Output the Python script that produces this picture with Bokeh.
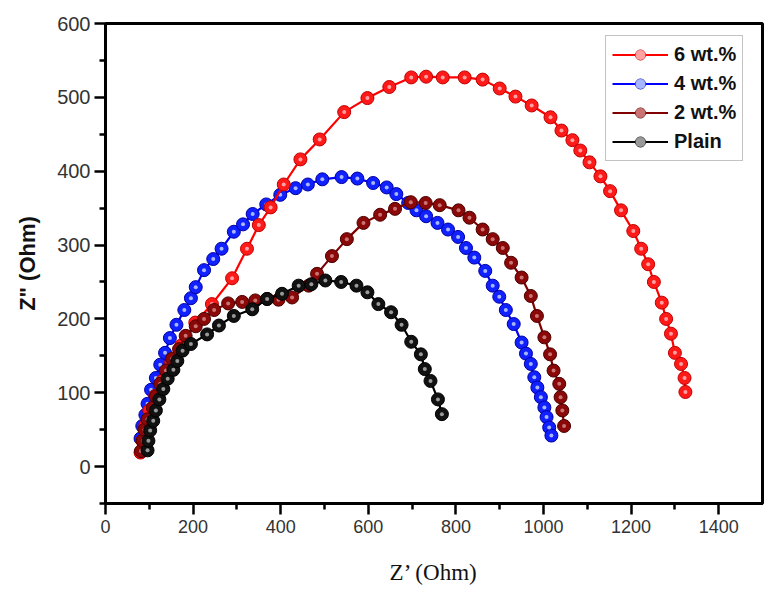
from bokeh.plotting import figure
from bokeh.models import FixedTicker, Range1d, Legend, LegendItem
from bokeh.embed import file_html
from bokeh.resources import INLINE

# ---- data (Z' , Z'' in Ohm) ----
red_x = [80, 84, 91, 100, 114, 130, 150, 173, 205, 243, 289, 323, 350, 377, 407, 445, 489, 545,
         598, 648, 698, 732, 770, 820, 861, 900, 936, 973, 1016, 1041, 1066, 1084, 1105, 1130,
         1152, 1177, 1205, 1223, 1239, 1252, 1270, 1280, 1291, 1300, 1314, 1322, 1324]
red_y = [19, 35, 55, 76, 96, 116, 141, 164, 195, 220, 255, 295, 327, 351, 382, 416, 443, 480,
         499, 514, 527, 528, 527, 527, 524, 512, 501, 489, 473, 455, 442, 428, 412, 393,
         373, 347, 319, 295, 274, 250, 222, 200, 180, 154, 139, 120, 101]

blue_x = [80, 84, 91, 96, 104, 115, 125, 136, 147, 162, 180, 195, 206, 225, 246, 265, 293, 314,
          336, 367, 399, 434, 462, 495, 539, 575, 611, 642, 664, 691, 710, 732, 758, 782, 805,
          823, 842, 867, 884, 899, 914, 932, 950, 960, 971, 979, 986, 994, 1002, 1007, 1013, 1018]
blue_y = [38, 55, 70, 85, 104, 120, 138, 154, 174, 192, 212, 228, 243, 266, 281, 295, 318, 328,
          342, 355, 368, 377, 382, 389, 392, 390, 384, 378, 369, 357, 347, 339, 330, 321, 311,
          296, 283, 265, 245, 230, 212, 193, 168, 153, 139, 121, 107, 94, 80, 67, 53, 42]

brown_x = [81, 85, 89, 96, 108, 115, 125, 138, 152, 168, 183, 206, 225, 248, 280, 312, 342, 369,
           395, 426, 464, 483, 517, 551, 589, 627, 661, 697, 731, 763, 806, 831, 861, 884, 907,
           926, 950, 971, 985, 1002, 1015, 1023, 1036, 1039, 1043, 1047]
brown_y = [21, 35, 50, 64, 80, 95, 112, 130, 146, 159, 177, 190, 200, 212, 221, 223, 225, 227,
           226, 229, 245, 261, 285, 308, 330, 341, 349, 358, 357, 354, 347, 337, 321, 308, 296,
           276, 256, 231, 204, 175, 152, 130, 112, 94, 76, 55]

plain_x = [96, 98, 102, 109, 115, 123, 132, 142, 155, 164, 176, 195, 232, 259, 293, 335, 369,
           403, 441, 470, 502, 538, 573, 598, 623, 652, 676, 698, 720, 729, 742, 759, 768]
plain_y = [22, 35, 49, 62, 76, 91, 105, 119, 131, 143, 157, 166, 179, 191, 204, 213, 227,
           234, 245, 247, 252, 250, 245, 236, 220, 209, 192, 169, 152, 132, 116, 91, 71]

series_names = ["6 wt.%", "4 wt.%", "2 wt.%", "Plain"]
x_ticks = [0, 200, 400, 600, 800, 1000, 1200, 1400]
y_ticks = [0, 100, 200, 300, 400, 500, 600]

p = figure(width=777, height=601, output_backend="svg", toolbar_location=None,
           x_range=Range1d(0, 1500), y_range=Range1d(-50, 600),
           min_border_left=105, min_border_right=15, min_border_top=23, min_border_bottom=98)
p.background_fill_color = "white"
p.border_fill_color = "white"
p.xgrid.visible = False
p.ygrid.visible = False
p.outline_line_color = "black"
p.outline_line_width = 3

p.xaxis.ticker = FixedTicker(ticks=x_ticks, minor_ticks=[100, 300, 500, 700, 900, 1100, 1300])
p.yaxis.ticker = FixedTicker(ticks=y_ticks, minor_ticks=[-50, 50, 150, 250, 350, 450, 550])
for ax in (p.xaxis[0], p.yaxis[0]):
    ax.axis_line_width = 3
    ax.axis_line_color = "black"
    ax.major_tick_in = 0
    ax.major_tick_out = 11
    ax.minor_tick_in = 0
    ax.minor_tick_out = 6
    ax.major_tick_line_width = 2.5
    ax.minor_tick_line_width = 2.5
    ax.major_label_text_font = "Liberation Sans"
    ax.major_label_text_color = "#333333"

p.xaxis.major_label_text_font_size = "18px"
p.yaxis.major_label_text_font_size = "20px"

p.xaxis.axis_label = "Z\u2019 (Ohm)"
p.xaxis.axis_label_text_font = "Liberation Serif"
p.xaxis.axis_label_text_font_size = "23px"
p.xaxis.axis_label_text_font_style = "normal"
p.xaxis.axis_label_text_color = "#111111"
p.xaxis.major_label_standoff = 5
p.xaxis.axis_label_standoff = 24

p.yaxis.axis_label = "Z\" (Ohm)"
p.yaxis.axis_label_text_font = "Liberation Sans"
p.yaxis.axis_label_text_font_size = "22px"
p.yaxis.axis_label_text_font_style = "bold"
p.yaxis.axis_label_text_color = "#111111"
p.yaxis.major_label_standoff = 4
p.yaxis.axis_label_standoff = 14

styles = [
    (red_x, red_y, "#ff0000", "#ff1a1a", "#c00000", "#ffb0b0"),
    (blue_x, blue_y, "#0000ff", "#1020ff", "#0000a0", "#b8c8ff"),
    (brown_x, brown_y, "#800000", "#8a0808", "#4a0000", "#d08080"),
    (plain_x, plain_y, "#000000", "#111111", "#000000", "#aaaaaa"),
]
order = [1, 0, 2, 3]
items = {}
for i in order:
    xs, ys, lc, fc, oc, hc = styles[i]
    l = p.line(xs, ys, line_color=lc, line_width=2.2)
    s = p.scatter(xs, ys, size=13, fill_color=fc, line_color=oc, line_width=1)
    h = p.scatter(xs, ys, size=4, fill_color=hc, line_color=None, fill_alpha=0.9)
    items[i] = LegendItem(label=series_names[i], renderers=[l, s, h])

legend = Legend(items=[items[i] for i in range(4)], location=(500, 342))
legend.label_text_font = "Liberation Sans"
legend.label_text_font_style = "bold"
legend.label_text_font_size = "20px"
legend.label_text_color = "#111111"
legend.glyph_width = 56
legend.glyph_height = 25
legend.spacing = 4
legend.padding = 6
legend.margin = 0
legend.label_standoff = 6
legend.border_line_color = "#888888"
legend.border_line_width = 1
legend.background_fill_color = "white"
legend.background_fill_alpha = 1
p.add_layout(legend, "center")

open("out.html", "w").write(file_html(p, INLINE))
